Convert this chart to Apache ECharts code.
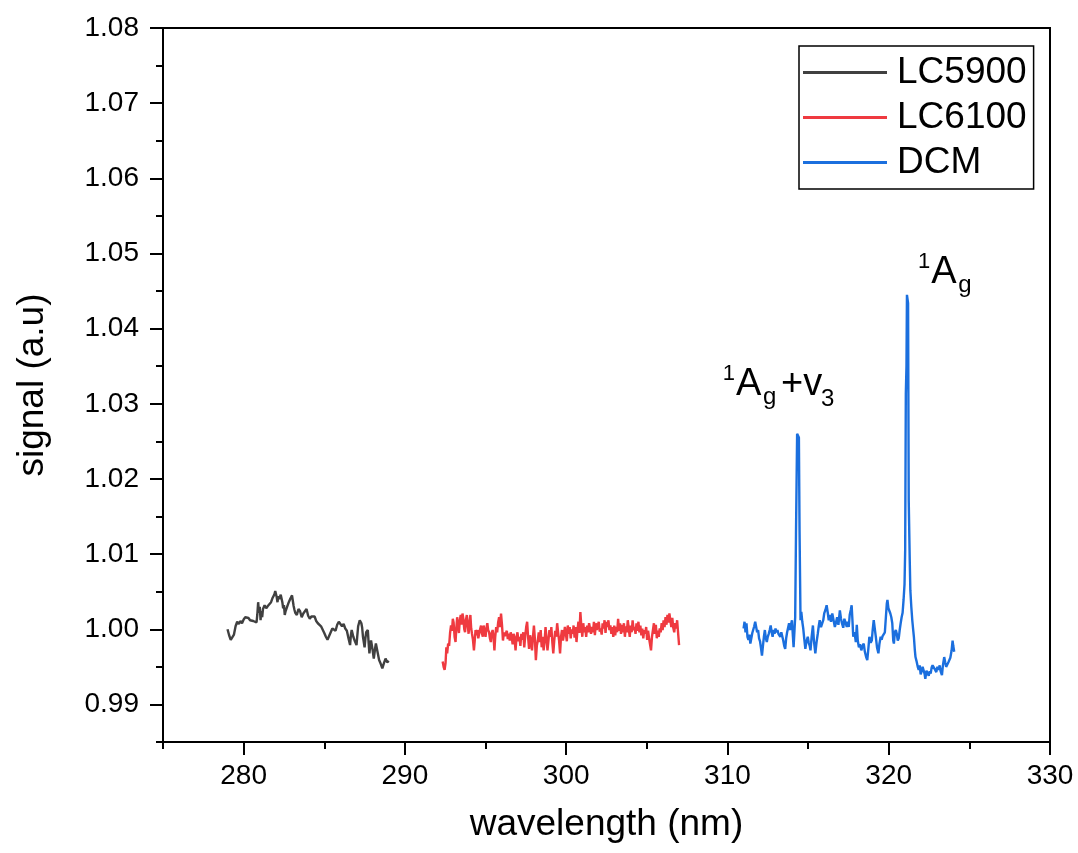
<!DOCTYPE html>
<html>
<head>
<meta charset="utf-8">
<title>signal vs wavelength</title>
<script src="https://cdn.jsdelivr.net/npm/echarts@6/dist/echarts.min.js"></script>
<style>
  html, body { margin: 0; padding: 0; background: #fff; }
  #chart { width: 1078px; height: 853px; }
</style>
</head>
<body>
<div id="chart"></div>
<script>
// Axis ticks and labels
const xMajorTicks = [280, 290, 300, 310, 320, 330];
const xMinorTicks = [275, 285, 295, 305, 315, 325];
const yMajorTicks = [0.99, 1.00, 1.01, 1.02, 1.03, 1.04, 1.05, 1.06, 1.07, 1.08];
const yMinorTicks = [0.985, 0.995, 1.005, 1.015, 1.025, 1.035, 1.045, 1.055, 1.065, 1.075];

const seriesNames = ['LC5900', 'LC6100', 'DCM'];

// LC5900: [wavelength nm, signal]
const lc5900 = [
  [279.00,1.0000],[279.10,0.9992],[279.20,0.9986],[279.30,0.9984],[279.40,0.9993],[279.50,1.0004],
  [279.60,1.0010],[279.70,1.0007],[279.80,1.0011],[279.90,1.0008],[280.00,1.0013],[280.10,1.0016],
  [280.20,1.0014],[280.30,1.0015],[280.40,1.0012],[280.50,1.0013],[280.60,1.0011],[280.70,1.0013],
  [280.80,1.0009],[280.85,1.0020],[280.90,1.0036],[280.95,1.0022],[281.00,1.0030],[281.05,1.0012],
  [281.10,1.0024],[281.15,1.0016],[281.20,1.0027],[281.30,1.0032],[281.40,1.0028],[281.50,1.0031],
  [281.60,1.0029],[281.70,1.0036],[281.80,1.0042],[281.90,1.0046],[281.96,1.0051],[282.05,1.0043],
  [282.10,1.0036],[282.15,1.0044],[282.20,1.0040],[282.30,1.0046],[282.35,1.0041],[282.40,1.0036],
  [282.45,1.0028],[282.50,1.0032],[282.55,1.0019],[282.60,1.0024],[282.70,1.0030],[282.80,1.0036],
  [282.90,1.0041],[283.00,1.0045],[283.05,1.0038],[283.10,1.0031],[283.15,1.0026],[283.20,1.0022],
  [283.30,1.0019],[283.40,1.0027],[283.50,1.0024],[283.60,1.0016],[283.70,1.0021],[283.80,1.0023],
  [283.90,1.0027],[284.00,1.0018],[284.10,1.0014],[284.20,1.0017],[284.30,1.0015],[284.40,1.0017],
  [284.50,1.0011],[284.60,1.0008],[284.70,1.0006],[284.80,1.0004],[284.90,1.0002],[285.00,0.9995],
  [285.10,0.9990],[285.20,0.9986],[285.30,0.9991],[285.40,0.9996],[285.50,1.0001],[285.60,1.0003],
  [285.70,0.9998],[285.80,1.0006],[285.90,1.0010],[286.00,1.0008],[286.10,1.0004],[286.20,1.0007],
  [286.30,1.0001],[286.40,0.9998],[286.50,0.9988],[286.60,0.9979],[286.65,0.9992],[286.70,0.9999],
  [286.80,0.9990],[286.90,0.9984],[287.00,0.9979],[287.05,0.9992],[287.10,1.0004],[287.20,1.0012],
  [287.30,1.0008],[287.35,1.0002],[287.40,0.9990],[287.50,0.9976],[287.55,0.9988],[287.60,0.9996],
  [287.70,0.9999],[287.75,0.9982],[287.80,0.9968],[287.85,0.9978],[287.90,0.9985],[288.00,0.9972],
  [288.07,0.9961],[288.15,0.9974],[288.20,0.9981],[288.30,0.9970],[288.40,0.9959],[288.50,0.9954],
  [288.60,0.9948],[288.70,0.9955],[288.80,0.9961],[288.90,0.9956],[289.00,0.9958]
];

// LC6100: [wavelength nm, signal]
const lc6100 = [
  [292.34,0.9957],[292.40,0.9950],[292.46,0.9946],[292.52,0.9955],[292.57,0.9976],[292.62,0.9968],
  [292.68,0.9981],[292.74,0.9978],[292.80,0.9995],[292.86,1.0005],[292.92,0.9998],[292.97,1.0014],
  [293.02,1.0009],[293.08,0.9990],[293.14,0.9983],[293.19,1.0002],[293.24,1.0016],[293.30,1.0004],
  [293.35,0.9995],[293.40,1.0011],[293.46,1.0019],[293.52,1.0006],[293.57,1.0021],[293.63,1.0013],
  [293.68,1.0000],[293.73,0.9996],[293.78,1.0012],[293.84,1.0019],[293.90,1.0004],[293.95,0.9994],
  [294.00,1.0008],[294.06,1.0019],[294.11,1.0001],[294.16,0.9994],[294.22,0.9986],[294.28,0.9972],
  [294.33,0.9985],[294.38,0.9999],[294.44,0.9992],[294.50,0.9999],[294.55,0.9988],[294.61,0.9990],
  [294.66,1.0000],[294.72,1.0005],[294.77,0.9995],[294.83,0.9990],[294.88,1.0005],[294.94,0.9997],
  [295.00,0.9990],[295.05,1.0001],[295.11,1.0008],[295.16,0.9999],[295.22,0.9996],[295.27,0.9988],
  [295.33,0.9983],[295.38,0.9995],[295.44,0.9999],[295.50,0.9989],[295.55,0.9972],[295.60,0.9990],
  [295.66,1.0003],[295.72,0.9996],[295.78,1.0009],[295.84,1.0016],[295.90,1.0003],[295.96,1.0021],
  [296.02,1.0006],[296.08,0.9985],[296.14,0.9996],[296.20,0.9991],[296.26,0.9990],[296.32,0.9998],
  [296.38,0.9987],[296.44,0.9994],[296.50,0.9985],[296.56,0.9996],[296.62,0.9990],[296.68,0.9980],
  [296.74,0.9994],[296.80,0.9988],[296.86,0.9972],[296.92,0.9989],[296.98,0.9996],[297.04,0.9984],
  [297.10,0.9990],[297.16,0.9978],[297.22,0.9994],[297.28,0.9986],[297.34,0.9996],[297.40,0.9976],
  [297.46,0.9991],[297.52,1.0003],[297.58,1.0010],[297.64,0.9989],[297.70,0.9974],[297.76,0.9992],
  [297.82,0.9985],[297.88,0.9972],[297.94,0.9990],[298.00,1.0005],[298.06,0.9987],[298.12,0.9959],
  [298.18,0.9978],[298.24,0.9985],[298.30,0.9996],[298.36,0.9983],[298.42,0.9999],[298.48,0.9976],
  [298.54,0.9990],[298.60,0.9972],[298.66,0.9984],[298.72,1.0003],[298.78,0.9988],[298.84,0.9972],
  [298.90,0.9985],[298.96,0.9999],[299.02,0.9990],[299.08,1.0003],[299.14,0.9983],[299.20,0.9968],
  [299.26,0.9985],[299.32,0.9998],[299.38,0.9990],[299.44,1.0008],[299.50,0.9996],[299.56,0.9985],
  [299.62,0.9968],[299.68,0.9990],[299.74,0.9999],[299.80,0.9985],[299.86,0.9993],[299.92,1.0003],
  [299.98,0.9994],[300.04,0.9984],[300.10,1.0005],[300.16,0.9994],[300.22,1.0003],[300.28,0.9988],
  [300.34,1.0000],[300.40,0.9994],[300.46,1.0005],[300.52,0.9989],[300.58,1.0003],[300.64,0.9983],
  [300.70,0.9999],[300.76,1.0010],[300.82,0.9995],[300.88,1.0023],[300.94,1.0004],[301.00,0.9990],
  [301.06,1.0008],[301.12,0.9996],[301.18,1.0003],[301.24,0.9990],[301.30,1.0005],[301.36,0.9996],
  [301.42,1.0008],[301.48,1.0001],[301.54,0.9994],[301.60,1.0003],[301.66,0.9996],[301.72,1.0010],
  [301.78,0.9992],[301.84,1.0008],[301.90,0.9999],[301.96,1.0005],[302.02,1.0010],[302.08,0.9997],
  [302.14,1.0001],[302.20,0.9993],[302.26,1.0008],[302.32,1.0001],[302.38,1.0012],[302.44,0.9995],
  [302.50,1.0010],[302.56,1.0003],[302.62,1.0012],[302.68,0.9999],[302.74,1.0005],[302.80,0.9994],
  [302.86,1.0003],[302.92,0.9990],[302.98,1.0005],[303.04,0.9992],[303.10,1.0003],[303.16,0.9996],
  [303.22,1.0014],[303.28,0.9998],[303.34,1.0008],[303.40,0.9994],[303.46,1.0006],[303.52,0.9996],
  [303.58,1.0008],[303.64,0.9990],[303.70,1.0004],[303.76,0.9996],[303.82,1.0012],[303.88,1.0001],
  [303.94,0.9990],[304.00,1.0005],[304.06,0.9996],[304.12,1.0012],[304.18,0.9999],[304.24,1.0003],
  [304.30,0.9994],[304.36,1.0008],[304.42,0.9998],[304.48,1.0010],[304.54,0.9996],[304.60,1.0005],
  [304.66,0.9992],[304.72,1.0001],[304.78,0.9988],[304.84,0.9999],[304.90,0.9994],[304.96,1.0003],
  [305.02,0.9986],[305.08,0.9998],[305.14,0.9988],[305.20,0.9980],[305.26,0.9972],[305.32,0.9990],
  [305.38,0.9999],[305.44,1.0008],[305.50,0.9994],[305.56,1.0006],[305.62,0.9988],[305.68,0.9998],
  [305.74,0.9990],[305.80,1.0001],[305.86,0.9996],[305.92,1.0008],[305.98,0.9999],[306.04,1.0012],
  [306.10,1.0003],[306.16,1.0016],[306.22,1.0006],[306.28,1.0019],[306.34,1.0009],[306.40,1.0021],
  [306.46,1.0012],[306.52,1.0003],[306.58,1.0015],[306.64,1.0002],[306.70,0.9996],[306.76,1.0008],
  [306.82,1.0001],[306.88,1.0012],[306.94,0.9995],[307.00,0.9979]
];

// DCM: [wavelength nm, signal]
const dcm = [
  [311.00,1.0001],[311.06,1.0010],[311.12,0.9996],[311.18,1.0008],[311.24,0.9990],[311.30,0.9986],
  [311.36,0.9993],[311.42,0.9981],[311.48,0.9988],[311.54,0.9995],[311.60,0.9994],[311.66,1.0004],
  [311.72,1.0010],[311.78,1.0003],[311.84,0.9996],[311.90,0.9999],[311.96,0.9988],[312.02,0.9984],
  [312.08,0.9975],[312.14,0.9965],[312.20,0.9978],[312.26,0.9990],[312.32,0.9999],[312.38,0.9988],
  [312.44,0.9983],[312.50,0.9990],[312.56,0.9994],[312.62,0.9999],[312.68,1.0005],[312.74,0.9996],
  [312.80,0.9990],[312.86,0.9999],[312.92,0.9994],[312.98,1.0001],[313.04,0.9996],[313.10,0.9999],
  [313.16,0.9994],[313.22,0.9996],[313.28,0.9990],[313.34,0.9996],[313.40,0.9994],[313.46,0.9985],
  [313.52,0.9978],[313.58,0.9974],[313.64,0.9988],[313.70,0.9996],[313.76,1.0002],[313.82,1.0008],
  [313.88,0.9999],[313.94,1.0006],[314.00,1.0012],[314.06,0.9990],[314.10,0.9976],[314.16,1.0000],
  [314.20,1.0016],[314.25,1.0127],[314.32,1.0260],[314.40,1.0258],[314.43,1.0255],[314.47,1.0132],
  [314.53,1.0012],[314.58,1.0023],[314.64,1.0010],[314.70,1.0001],[314.76,0.9988],[314.83,0.9974],
  [314.90,0.9984],[314.98,0.9990],[315.04,0.9982],[315.10,0.9978],[315.15,0.9972],[315.22,0.9990],
  [315.30,1.0005],[315.36,0.9985],[315.45,0.9968],[315.52,0.9982],[315.60,0.9994],[315.66,1.0004],
  [315.72,1.0012],[315.80,1.0003],[315.87,1.0003],[315.94,1.0012],[316.00,1.0021],[316.08,1.0026],
  [316.15,1.0032],[316.22,1.0022],[316.28,1.0012],[316.35,1.0019],[316.42,1.0010],[316.50,1.0021],
  [316.58,1.0012],[316.66,1.0003],[316.72,1.0008],[316.80,1.0016],[316.88,1.0006],[316.97,1.0025],
  [317.04,1.0014],[317.10,1.0008],[317.18,1.0002],[317.25,1.0014],[317.32,1.0009],[317.40,1.0003],
  [317.46,1.0010],[317.52,1.0003],[317.58,1.0019],[317.65,1.0026],[317.70,1.0032],[317.75,1.0012],
  [317.80,0.9990],[317.88,0.9996],[317.96,0.9983],[318.02,1.0006],[318.08,0.9985],[318.15,0.9976],
  [318.22,0.9980],[318.30,0.9972],[318.38,0.9978],[318.45,0.9981],[318.52,0.9970],[318.60,0.9963],
  [318.67,0.9959],[318.74,0.9975],[318.80,0.9990],[318.88,0.9982],[318.95,0.9985],[319.00,0.9998],
  [319.07,1.0012],[319.14,1.0000],[319.20,0.9990],[319.28,0.9975],[319.36,0.9968],[319.42,0.9980],
  [319.50,0.9990],[319.56,0.9986],[319.62,0.9991],[319.70,0.9990],[319.76,0.9996],[319.82,1.0015],
  [319.88,1.0034],[319.92,1.0039],[319.98,1.0028],[320.04,1.0030],[320.10,1.0021],[320.16,1.0016],
  [320.22,1.0008],[320.28,0.9985],[320.32,0.9981],[320.38,0.9996],[320.44,0.9999],[320.50,0.9994],
  [320.56,0.9985],[320.62,0.9988],[320.68,0.9999],[320.74,1.0008],[320.80,1.0016],[320.86,1.0022],
  [320.92,1.0039],[320.98,1.0060],[321.02,1.0105],[321.06,1.0313],[321.10,1.0350],[321.13,1.0445],
  [321.20,1.0434],[321.24,1.0172],[321.30,1.0095],[321.34,1.0052],[321.40,1.0030],[321.46,1.0012],
  [321.50,1.0003],[321.56,0.9990],[321.62,0.9972],[321.66,0.9963],[321.72,0.9958],[321.80,0.9950],
  [321.86,0.9946],[321.92,0.9952],[321.98,0.9940],[322.04,0.9944],[322.10,0.9950],[322.17,0.9950],
  [322.22,0.9941],[322.27,0.9934],[322.34,0.9945],[322.40,0.9946],[322.48,0.9938],[322.54,0.9944],
  [322.60,0.9941],[322.66,0.9949],[322.72,0.9952],[322.80,0.9954],[322.88,0.9946],[322.95,0.9943],
  [323.02,0.9950],[323.10,0.9946],[323.16,0.9952],[323.22,0.9944],[323.30,0.9939],[323.36,0.9952],
  [323.44,0.9963],[323.50,0.9956],[323.56,0.9950],[323.62,0.9952],[323.70,0.9956],[323.76,0.9954],
  [323.82,0.9962],[323.90,0.9972],[323.96,0.9985],[324.00,0.9978],[324.06,0.9970]
];

// Peak annotations, anchored at the centre-left of the large "A" (data units)
const peakLabels = [
  { x: 310.53, y: 1.0326, tail: '+v', tailSub: '3' },
  { x: 322.64, y: 1.0475, tail: '', tailSub: '' }
];

const colors = ['#404040', '#ef3a40', '#1b6fde'];
const FONT = '"Liberation Sans", Arial, sans-serif';

const chart = echarts.init(document.getElementById('chart'), null, { renderer: 'canvas' });

const lineSeries = (name, data, color) => ({
  name, type: 'line', data,
  xAxisIndex: 0, yAxisIndex: 0,
  symbol: 'none', showSymbol: false,
  lineStyle: { color, width: 2.4 },
  itemStyle: { color },
  emphasis: { disabled: true },
  z: 3
});

const axisCommon = {
  type: 'value',
  splitLine: { show: false },
  axisLine: { onZero: false, lineStyle: { color: '#000', width: 2 } }
};

chart.setOption({
  animation: false,
  backgroundColor: '#fff',
  grid: {
    left: 163, top: 28, right: 28, bottom: 111,
    show: true, borderColor: '#000', borderWidth: 2, backgroundColor: 'transparent'
  },
  legend: {
    data: seriesNames.map(n => ({ name: n, icon: 'rect' })),
    orient: 'vertical',
    left: 799, top: 46,
    padding: [4, 7, 4, 4],
    itemGap: 0,
    itemWidth: 84, itemHeight: 3,
    borderColor: '#000', borderWidth: 1.5, borderRadius: 0,
    backgroundColor: '#fff',
    selectedMode: false,
    textStyle: { fontFamily: FONT, fontSize: 37, lineHeight: 45, color: '#000', padding: [0, 0, 0, 5] }
  },
  xAxis: [
    Object.assign({}, axisCommon, {
      min: 275, max: 330, position: 'bottom',
      name: 'wavelength (nm)', nameLocation: 'middle', nameGap: 64,
      nameTextStyle: { fontFamily: FONT, fontSize: 37, color: '#000' },
      axisTick: { show: true, inside: false, length: 13, customValues: xMajorTicks, lineStyle: { color: '#000', width: 2 } },
      axisLabel: { customValues: xMajorTicks, fontFamily: FONT, fontSize: 28, color: '#000', margin: 20 }
    }),
    Object.assign({}, axisCommon, {
      min: 275, max: 330, position: 'bottom',
      axisLine: { show: false },
      axisTick: { show: true, inside: false, length: 7, customValues: xMinorTicks, lineStyle: { color: '#000', width: 2 } },
      axisLabel: { show: false }
    })
  ],
  yAxis: [
    Object.assign({}, axisCommon, {
      min: 0.985, max: 1.08, position: 'left',
      name: 'signal (a.u)', nameLocation: 'middle', nameGap: 112,
      nameTextStyle: { fontFamily: FONT, fontSize: 37, color: '#000' },
      axisTick: { show: true, inside: false, length: 13, customValues: yMajorTicks, lineStyle: { color: '#000', width: 2 } },
      axisLabel: {
        customValues: yMajorTicks, fontFamily: FONT, fontSize: 28, color: '#000', margin: 24,
        formatter: v => Number(v).toFixed(2)
      }
    }),
    Object.assign({}, axisCommon, {
      min: 0.985, max: 1.08, position: 'left',
      axisLine: { show: false },
      axisTick: { show: true, inside: false, length: 7, customValues: yMinorTicks, lineStyle: { color: '#000', width: 2 } },
      axisLabel: { show: false }
    })
  ],
  series: [
    lineSeries(seriesNames[0], lc5900, colors[0]),
    lineSeries(seriesNames[1], lc6100, colors[1]),
    lineSeries(seriesNames[2], dcm, colors[2])
  ]
});

// Build the superscript/subscript peak labels at their data anchors
function txt(text, x, y, size, align) {
  return {
    type: 'text', x, y,
    style: { text, fontFamily: FONT, fontSize: size, fill: '#000', align: align || 'left', verticalAlign: 'middle' }
  };
}
const labelGraphics = peakLabels.map(p => {
  const [px, py] = chart.convertToPixel({ xAxisIndex: 0, yAxisIndex: 0 }, [p.x, p.y]);
  const children = [
    txt('1', -1, -10, 22, 'right'),
    txt('A', 0, 0, 38),
    txt('g', 27, 13, 24)
  ];
  if (p.tail) {
    children.push(txt(p.tail, 45, 0, 38));
    children.push(txt(p.tailSub, 85, 15, 24));
  }
  return { type: 'group', x: px, y: py, z: 10, children };
});
chart.setOption({ graphic: labelGraphics });
</script>
</body>
</html>
